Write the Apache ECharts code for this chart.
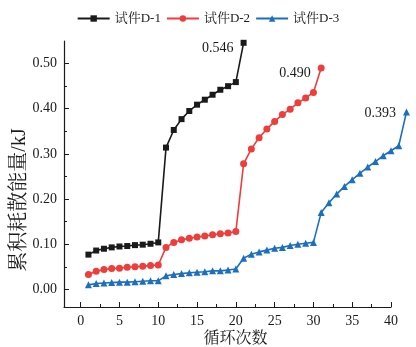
<!DOCTYPE html>
<html>
<head>
<meta charset="utf-8">
<script src="https://cdn.jsdelivr.net/npm/echarts@6/dist/echarts.min.js"></script>
<style>
  html, body { margin: 0; padding: 0; background: #fff; }
  #chart { width: 416px; height: 347px; }
</style>
</head>
<body>
<div id="chart"></div>
<script>
// cycle index and cumulative dissipated energy (kJ)
const cyclesD1 = [1,2,3,4,5,6,7,8,9,10,11,12,13,14,15,16,17,18,19,20,21];
const energyD1 = [0.077,0.086,0.090,0.093,0.095,0.096,0.098,0.099,0.101,0.104,
  0.314,0.353,0.377,0.395,0.409,0.420,0.431,0.442,0.450,0.459,0.546];

const cyclesD2 = [1,2,3,4,5,6,7,8,9,10,11,12,13,14,15,16,17,18,19,20,
  21,22,23,24,25,26,27,28,29,30,31];
const energyD2 = [0.033,0.040,0.044,0.046,0.047,0.049,0.050,0.051,0.053,0.054,
  0.093,0.104,0.110,0.113,0.116,0.118,0.121,0.123,0.125,0.128,
  0.278,0.311,0.336,0.355,0.372,0.387,0.399,0.413,0.424,0.436,0.490];

const cyclesD3 = [1,2,3,4,5,6,7,8,9,10,11,12,13,14,15,16,17,18,19,20,
  21,22,23,24,25,26,27,28,29,30,31,32,33,34,35,36,37,38,39,40,41,42];
const energyD3 = [0.010,0.013,0.014,0.015,0.016,0.016,0.017,0.018,0.019,0.019,
  0.030,0.033,0.035,0.037,0.038,0.039,0.041,0.041,0.043,0.045,
  0.069,0.078,0.083,0.087,0.091,0.093,0.097,0.100,0.102,0.104,
  0.170,0.192,0.211,0.228,0.243,0.257,0.271,0.283,0.296,0.307,0.318,0.393];

const seriesNames = ["试件D-1", "试件D-2", "试件D-3"];
const xTicks = [0, 5, 10, 15, 20, 25, 30, 35, 40];
const xMinorTicks = [2.5, 7.5, 12.5, 17.5, 22.5, 27.5, 32.5, 37.5];
const yTicks = [0, 0.1, 0.2, 0.3, 0.4, 0.5];
const yMinorTicks = [0.05, 0.15, 0.25, 0.35, 0.45];

const serif = '"Liberation Serif", "Noto Serif CJK SC", "Noto Sans CJK SC", serif';
const ink = "#1a1a1a";

const W = 416, gridLeft = 64, axisRight = 25;
const xMin = -2.15, xAxisMax = 40;
// the D-3 curve runs past the drawn axis end (40), so the data grid is wider
// than the visible axis grid but keeps the same scale
const pxPerUnit = (W - gridLeft - axisRight) / (xAxisMax - xMin);
const xDataMax = xMin + (W - gridLeft) / pxPerUnit;
const yRange = { min: -0.039, max: 0.55 };

const chart = echarts.init(document.getElementById("chart"), null, { renderer: "canvas" });

// pair up x/y, and put the end value label on the last point
function pairs(xs, ys, labelOffset) {
  return xs.map((x, i) => {
    const item = { value: [x, ys[i]] };
    if (i === xs.length - 1) {
      item.label = {
        show: true,
        position: "left",
        distance: 7,
        offset: [0, labelOffset],
        formatter: ys[i].toFixed(3),
        color: ink,
        fontFamily: serif,
        fontSize: 14,
      };
    }
    return item;
  });
}

const option = {
  animation: false,
  backgroundColor: "#fff",
  textStyle: { fontFamily: serif, color: ink },
  legend: {
    top: 7,
    left: "center",
    itemWidth: 32,
    itemHeight: 8,
    itemGap: 5,
    textStyle: { fontFamily: serif, fontSize: 13, color: ink },
    data: seriesNames,
  },
  grid: [
    { left: gridLeft, right: 0, top: 41, bottom: 40, outerBoundsMode: "none", containLabel: false },
    { left: gridLeft, right: axisRight, top: 41, bottom: 40, outerBoundsMode: "none", containLabel: false },
  ],
  xAxis: [
    {
      // data axis, not drawn
      type: "value",
      gridIndex: 0,
      min: xMin,
      max: xDataMax,
      show: false,
    },
    {
      type: "value",
      gridIndex: 1,
      min: xMin,
      max: xAxisMax,
      name: "循环次数",
      nameLocation: "middle",
      nameGap: 24,
      nameMoveOverlap: false,
      nameTextStyle: { fontSize: 16, color: ink, padding: [0, 0, 0, 16] },
      splitLine: { show: false },
      axisLine: { onZero: false, lineStyle: { color: ink, width: 1.2 } },
      axisTick: { inside: true, length: 5, customValues: xTicks, lineStyle: { color: ink } },
      axisLabel: { customValues: xTicks, margin: 7, fontSize: 14, color: ink },
    },
    {
      type: "value",
      gridIndex: 1,
      min: xMin,
      max: xAxisMax,
      position: "bottom",
      axisLine: { show: false, onZero: false },
      splitLine: { show: false },
      axisTick: { inside: true, length: 3, customValues: xMinorTicks, lineStyle: { color: ink } },
      axisLabel: { show: false },
    },
  ],
  yAxis: [
    {
      type: "value",
      gridIndex: 0,
      ...yRange,
      name: "累积耗散能量/kJ",
      nameLocation: "middle",
      nameGap: 34,
      nameMoveOverlap: false,
      nameTextStyle: { fontSize: 20, color: ink, padding: [0, 52, 0, 0] },
      splitLine: { show: false },
      axisLine: { show: true, onZero: false, lineStyle: { color: ink, width: 1.2 } },
      axisTick: { show: true, inside: true, length: 5, customValues: yTicks, lineStyle: { color: ink } },
      axisLabel: {
        customValues: yTicks,
        margin: 7,
        fontSize: 14,
        color: ink,
        formatter: (v) => v.toFixed(2),
      },
    },
    {
      type: "value",
      gridIndex: 0,
      ...yRange,
      position: "left",
      axisLine: { show: false, onZero: false },
      splitLine: { show: false },
      axisTick: { show: true, inside: true, length: 3, customValues: yMinorTicks, lineStyle: { color: ink } },
      axisLabel: { show: false },
    },
    {
      type: "value",
      gridIndex: 1,
      ...yRange,
      show: false,
    },
  ],
  series: [
    {
      name: seriesNames[0],
      type: "line",
      symbol: "rect",
      symbolSize: 6,
      color: "#1a1a1a",
      lineStyle: { width: 1.6 },
      data: pairs(cyclesD1, energyD1, 6),
    },
    {
      name: seriesNames[1],
      type: "line",
      symbol: "circle",
      symbolSize: 7,
      color: "#ee3d3a",
      lineStyle: { width: 1.6 },
      data: pairs(cyclesD2, energyD2, 5),
    },
    {
      name: seriesNames[2],
      type: "line",
      symbol: "triangle",
      symbolSize: 7,
      color: "#1b6fc0",
      lineStyle: { width: 1.6 },
      data: pairs(cyclesD3, energyD3, 1),
    },
  ],
};

chart.setOption(option);
</script>
</body>
</html>
